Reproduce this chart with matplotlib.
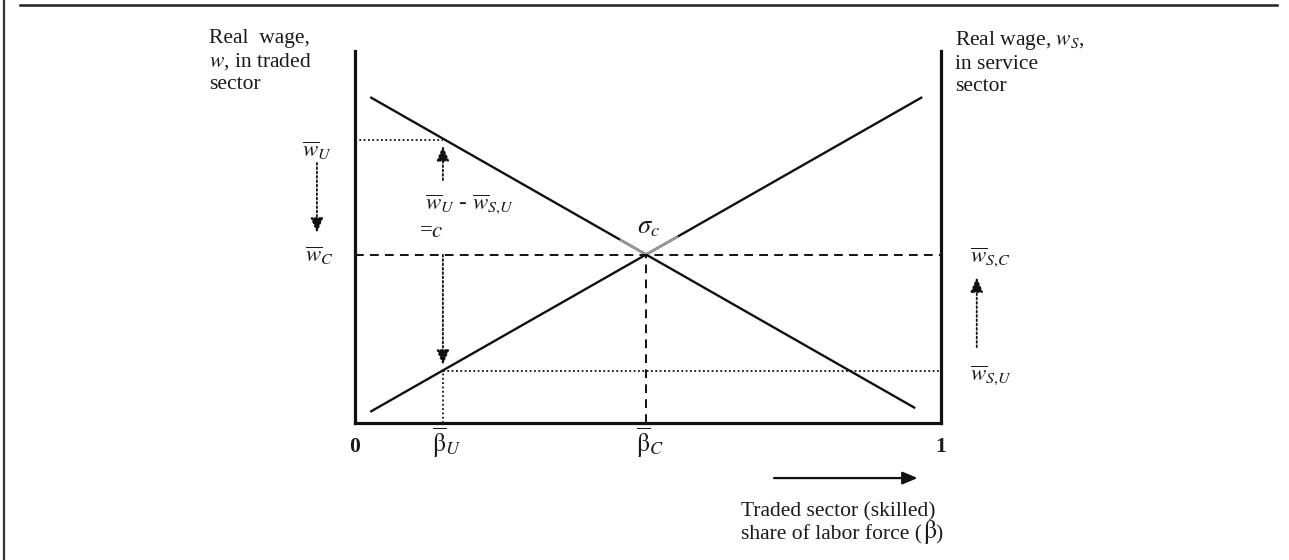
import matplotlib
matplotlib.use("Agg")
import matplotlib.pyplot as plt
from matplotlib.lines import Line2D

plt.rcParams['font.family'] = ['Liberation Serif', 'DejaVu Serif']
plt.rcParams['mathtext.fontset'] = 'stix'

# ---- data (model units: beta share 0..1, wage 0..1 of axis height) ----
beta_U = 0.150
beta_C = 0.497
traded_beta = [0.026, 0.956]
traded_wage = [0.876, 0.040]
service_beta = [0.026, 0.968]
service_wage = [0.030, 0.876]
w_U = 0.761
w_C = 0.452
w_SU = 0.141
gray_traded_beta = [0.452, beta_C]
gray_service_beta = [beta_C, 0.551]
x_tick_vals = [0.0, 1.0]
x_tick_labels = ['0', '1']

W, H = 1289, 560
fig = plt.figure(figsize=(W / 100, H / 100), dpi=100)
ax = fig.add_axes([355 / W, 137 / H, 586 / W, 372 / H])
ax.set_xlim(0, 1)
ax.set_ylim(0, 1)
ax.set_xticks([])
ax.set_yticks([])
ax.patch.set_alpha(0)
ax.spines['top'].set_visible(False)
for s in ['left', 'right', 'bottom']:
    ax.spines[s].set_linewidth(2.3)
    ax.spines[s].set_color('#111111')

def interp(xs, ys, x):
    return ys[0] + (ys[1] - ys[0]) * (x - xs[0]) / (xs[1] - xs[0])

# main schedules
ax.plot(traded_beta, traded_wage, color='#111111', lw=1.7, solid_capstyle='butt')
ax.plot(service_beta, service_wage, color='#111111', lw=1.7, solid_capstyle='butt')
# gray segments near intersection
ax.plot(gray_traded_beta, [interp(traded_beta, traded_wage, b) for b in gray_traded_beta],
        color='#9a9a9a', lw=1.7, solid_capstyle='butt')
ax.plot(gray_service_beta, [interp(service_beta, service_wage, b) for b in gray_service_beta],
        color='#9a9a9a', lw=1.7, solid_capstyle='butt')

dash = (0, (4.5, 3.2))
dot = (0, (1, 1.4))
# dashed guides
ax.plot([0, 1], [w_C, w_C], color='#111111', lw=1.4, linestyle=dash)
ax.plot([beta_C, beta_C], [0, w_C], color='#111111', lw=1.4, linestyle=dash)
# dotted guides
ax.plot([0, beta_U], [w_U, w_U], color='#111111', lw=1.3, linestyle=dot)
ax.plot([beta_U, 1], [w_SU, w_SU], color='#111111', lw=1.3, linestyle=dot)
ax.plot([beta_U, beta_U], [0, w_SU], color='#111111', lw=1.3, linestyle=dot)

def dotted_arrow(x0, y0, x1, y1):
    ax.annotate('', xy=(x1, y1), xytext=(x0, y0), xycoords='data',
                arrowprops=dict(arrowstyle='-|>,head_length=0.9,head_width=0.38',
                                linestyle=dot, lw=1.3, color='#111111',
                                shrinkA=0, shrinkB=0),
                annotation_clip=False)

dotted_arrow(beta_U, 0.653, beta_U, 0.745)
dotted_arrow(beta_U, w_C, beta_U, 0.156)
dotted_arrow(-0.065, 0.699, -0.065, 0.511)
dotted_arrow(1.061, 0.204, 1.061, 0.392)

# horizontal direction arrow
ax.annotate('', xy=(0.960, -0.148), xytext=(0.715, -0.148), xycoords='data',
            arrowprops=dict(arrowstyle='-|>,head_length=0.9,head_width=0.38',
                            lw=1.6, color='#111111', shrinkA=0, shrinkB=0),
            annotation_clip=False)

fs = 15.5
tc = '#1a1a1a'
kw = dict(clip_on=False, color=tc)
ax.text(-0.249, 1.060, 'Real  wage,\n$w$, in traded\nsector', fontsize=fs,
        ha='left', va='top', linespacing=1.22, **kw)
ax.text(1.024, 1.060, 'Real wage, $w_S$,\nin service\nsector', fontsize=fs,
        ha='left', va='top', linespacing=1.22, **kw)

ax.text(-0.039, 0.715, r'$\overline{w}_{U}$', fontsize=fs + 1, ha='right', va='baseline', **kw)
ax.text(-0.037, 0.433, r'$\overline{w}_{C}$', fontsize=fs + 1, ha='right', va='baseline', **kw)
ax.text(0.119, 0.573, r'$\overline{w}_{U}$ - $\overline{w}_{S{,}U}$', fontsize=fs + 1,
        ha='left', va='baseline', **kw)
ax.text(0.109, 0.500, r'=$c$', fontsize=fs + 1, ha='left', va='baseline', **kw)
ax.text(0.481, 0.511, r'$\sigma_{c}$', fontsize=19, ha='left', va='baseline', **kw)
ax.text(1.049, 0.430, r'$\overline{w}_{S{,}C}$', fontsize=fs + 1, ha='left', va='baseline', **kw)
ax.text(1.049, 0.113, r'$\overline{w}_{S{,}U}$', fontsize=fs + 1, ha='left', va='baseline', **kw)

for xv, lab in zip(x_tick_vals, x_tick_labels):
    ax.text(xv, -0.078, lab, fontsize=fs, fontweight='bold', ha='center',
            va='baseline', **kw)
for xv, sub in [(beta_U, 'U'), (beta_C, 'C')]:
    ax.text(xv - 0.018, -0.078, r'$\overline{\mathrm{\beta}}_{%s}$' % sub, fontsize=fs + 3,
            ha='left', va='baseline', **kw)

ax.text(0.659, -0.250, 'Traded sector (skilled)', fontsize=fs, ha='left',
        va='baseline', **kw)
t2 = ax.text(0.659, -0.312, 'share of labor force (', fontsize=fs, ha='left',
             va='baseline', **kw)
ax.annotate(r'$\mathrm{\beta}$', xy=(1, 0), xycoords=t2,
            xytext=(1, -2), textcoords='offset pixels', fontsize=fs + 3,
            ha='left', va='bottom', annotation_clip=False, color=tc)
ax.annotate(')', xy=(1, 0), xycoords=t2, xytext=(13, 0), textcoords='offset pixels',
            fontsize=fs, ha='left', va='bottom', annotation_clip=False, color=tc)

# outer frame lines
fig.add_artist(Line2D([4 / W, 4 / W], [0, 1], transform=fig.transFigure,
                      color='#333333', lw=1.6))
fig.add_artist(Line2D([20 / W, 1277 / W], [1 - 5 / H, 1 - 5 / H], transform=fig.transFigure,
                      color='#222222', lw=1.8))

fig.savefig('out.png', dpi=100)
